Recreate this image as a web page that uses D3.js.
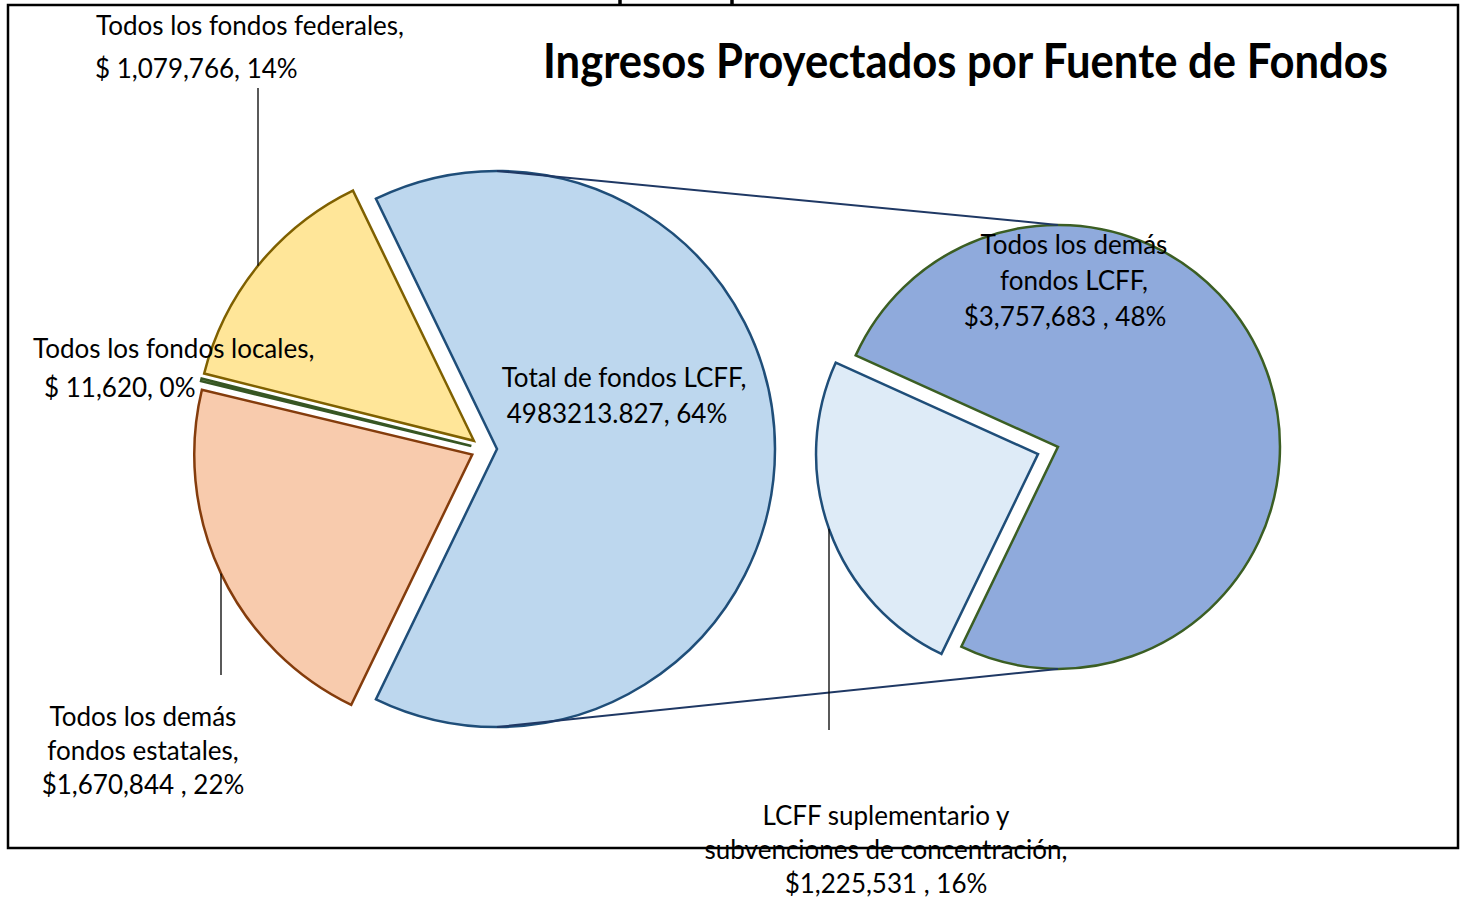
<!DOCTYPE html>
<html>
<head>
<meta charset="utf-8">
<script src="https://cdn.jsdelivr.net/npm/d3@7"></script>
<style>
  body { margin: 0; background: #fff; }
  text { font-family: Lato, "Noto Sans", sans-serif; fill: #000; }
</style>
</head>
<body>
<div id="chart"></div>
<script>
// data
const mainNames = ["Total de fondos LCFF", "Todos los demás fondos estatales", "Todos los fondos locales", "Todos los fondos federales"];
const mainValues = [4983213.827, 1670844, 11620, 1079766];
const mainLabelLines = [
    ["Total de fondos LCFF,", "4983213.827, 64%"],
    ["Todos los demás", "fondos estatales,", "$1,670,844 , 22%"],
    ["Todos los fondos locales,", "$ 11,620, 0%"],
    ["Todos los fondos federales,", "$ 1,079,766, 14%"]
];
const subNames = ["Todos los demás fondos LCFF", "LCFF suplementario y subvenciones de concentración"];
const subValues = [3757683, 1225531];
const subLabelLines = [
    ["Todos los demás", "fondos LCFF,", "$3,757,683 , 48%"],
    ["LCFF suplementario y", "subvenciones de concentración,", "$1,225,531 , 16%"]
];
const titleText = "Ingresos Proyectados por Fuente de Fondos";


const COLORS = {
    main: [
        { fill: "#BDD7EE", stroke: "#1F4E79" },
        { fill: "#F8CBAD", stroke: "#843C0C" },
        { fill: "#A9D18E", stroke: "#375623" },
        { fill: "#FFE699", stroke: "#7F6000" }
    ],
    sub: [
        { fill: "#8FAADC", stroke: "#3B5E23" },
        { fill: "#DEEBF7", stroke: "#1F4E79" }
    ],
    seriesLine: "#1F3864",
    leader: "#000"
};

const width = 1463, height = 903;

// layout
const main = { cx: 484, cy: 449, r: 278, explode: 13 };
const sub = { cx: 1048, cy: 450.5, r: 222, explode: 10.6 };
const fontSize = 26;

const svg = d3.select("#chart")
    .append("svg")
    .attr("width", width)
    .attr("height", height);

svg.append("rect")
    .attr("width", width)
    .attr("height", height)
    .attr("fill", "#fff");

// main pie: LCFF slice centred on the right side
const mainTotal = d3.sum(mainValues);
const mainStart = Math.PI / 2 - mainValues[0] / mainTotal * Math.PI;
const pieMain = d3.pie().sort(null)
    .startAngle(mainStart)
    .endAngle(mainStart + 2 * Math.PI);
const mainArcs = pieMain(mainValues);

// secondary pie: dark slice ends where the LCFF slice ends
const lcffEnd = mainArcs[0].endAngle;
const subStart = lcffEnd - subValues[0] / d3.sum(subValues) * 2 * Math.PI;
const pieSub = d3.pie().sort(null)
    .startAngle(subStart)
    .endAngle(subStart + 2 * Math.PI);
const subArcs = pieSub(subValues);

const offset = (d, e) => {
    const mid = (d.startAngle + d.endAngle) / 2;
    return [e * Math.sin(mid), -e * Math.cos(mid)];
};

function drawPie(p, arcs, colors) {
    const arc = d3.arc().innerRadius(0).outerRadius(p.r);
    const g = svg.append("g")
        .attr("transform", `translate(${p.cx},${p.cy})`);
    g.selectAll("path")
        .data(arcs)
        .enter()
        .append("path")
        .attr("d", arc)
        .attr("transform", d => `translate(${offset(d, p.explode)})`)
        .attr("fill", (d, i) => colors[i].fill)
        .attr("stroke", (d, i) => colors[i].stroke)
        .attr("stroke-width", 2.5)
        .attr("stroke-linejoin", "miter");
}

drawPie(main, mainArcs, COLORS.main);
drawPie(sub, subArcs, COLORS.sub);

// series lines between the two pies
const lcffO = offset(mainArcs[0], main.explode);
const darkO = offset(subArcs[0], sub.explode);
[-1, 1].forEach(s => {
    svg.append("line")
        .attr("x1", main.cx + lcffO[0])
        .attr("y1", main.cy + lcffO[1] + s * main.r)
        .attr("x2", sub.cx + darkO[0])
        .attr("y2", sub.cy + darkO[1] + s * sub.r)
        .attr("stroke", COLORS.seriesLine)
        .attr("stroke-width", 2);
});

// vertical leader lines: from label to the slice edge
function arcY(p, d, x, side) {
    const o = offset(d, p.explode);
    const cx = p.cx + o[0], cy = p.cy + o[1];
    return cy + side * Math.sqrt(p.r * p.r - (x - cx) * (x - cx));
}
const leaders = [
    { p: main, d: mainArcs[3], x: 258, y: 88, side: -1 },
    { p: main, d: mainArcs[1], x: 221, y: 675, side: 1 },
    { p: sub, d: subArcs[1], x: 829, y: 730, side: 1 }
];
leaders.forEach(l => {
    svg.append("line")
        .attr("x1", l.x).attr("x2", l.x)
        .attr("y1", l.y)
        .attr("y2", arcY(l.p, l.d, l.x, l.side))
        .attr("stroke", COLORS.leader)
        .attr("stroke-width", 1.3);
});

// data labels
const mainLabelPos = [
    { x: [624, 617], y: 387, dy: 36, anchor: "middle" },
    { x: [143, 143, 143], y: 726, dy: 34, anchor: "middle" },
    { x: [33, 44], y: 358, dy: 39, anchor: "start" },
    { x: [96, 95], y: 35, dy: 43, anchor: "start" }
];
const subLabelPos = [
    { x: [1074, 1074, 1065], y: 254, dy: 36, anchor: "middle" },
    { x: [886, 886, 886], y: 825, dy: 34, anchor: "middle" }
];

function drawLabels(lines, pos) {
    lines.forEach((ls, i) => {
        const p = pos[i];
        const t = svg.append("text")
            .attr("text-anchor", p.anchor)
            .style("font-size", fontSize + "px");
        ls.forEach((s, j) => {
            t.append("tspan")
                .attr("x", p.x[j])
                .attr("y", p.y + j * p.dy)
                .text(s);
        });
    });
}
drawLabels(mainLabelLines, mainLabelPos);
drawLabels(subLabelLines, subLabelPos);

// title
svg.append("text")
    .attr("x", 543)
    .attr("y", 78)
    .attr("textLength", 845)
    .attr("lengthAdjust", "spacingAndGlyphs")
    .style("font-size", "47px")
    .style("font-weight", "bold")
    .text(titleText);

// stubs of glyphs cut off above the frame
svg.selectAll("line.stub")
    .data([620, 732])
    .enter()
    .append("line")
    .attr("class", "stub")
    .attr("x1", d => d).attr("x2", d => d)
    .attr("y1", 0).attr("y2", 5)
    .attr("stroke", "#000")
    .attr("stroke-width", 3.5);

// outer frame
svg.append("rect")
    .attr("x", 8)
    .attr("y", 5)
    .attr("width", 1450)
    .attr("height", 843)
    .attr("fill", "none")
    .attr("stroke", "#000")
    .attr("stroke-width", 2.5);
</script>
</body>
</html>
